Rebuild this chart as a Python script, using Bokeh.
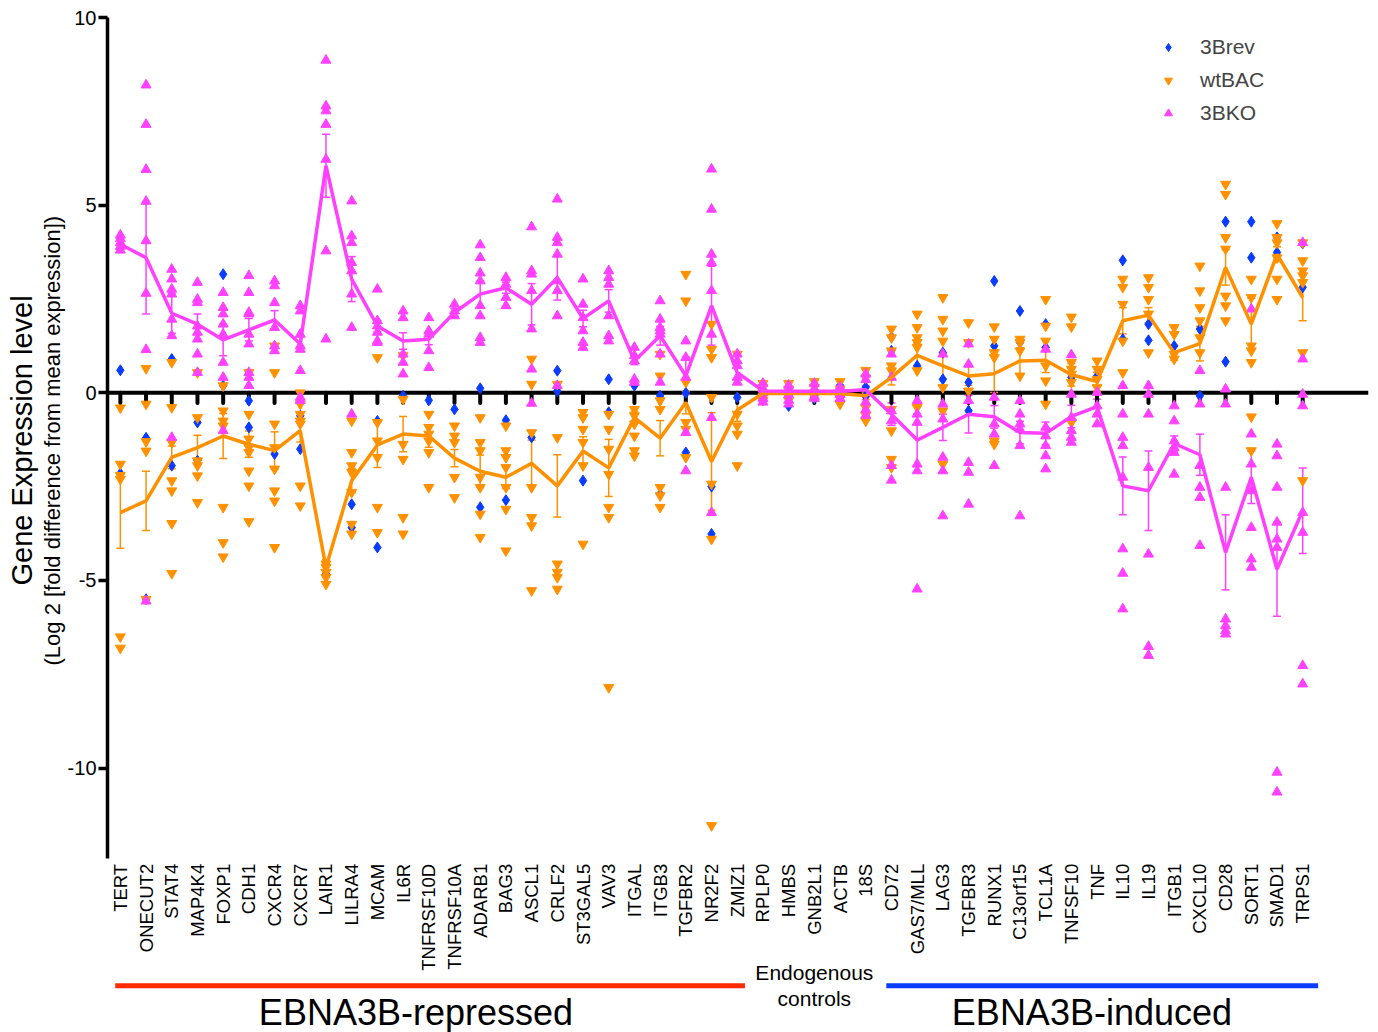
import math
from bokeh.plotting import figure
from bokeh.models import (Range1d, FixedTicker, Span, Whisker, TeeHead, ColumnDataSource,
                          Legend, LegendItem, Title)
from bokeh.core.properties import value
from bokeh.embed import file_html
from bokeh.resources import INLINE

genes = ["TERT", "ONECUT2", "STAT4", "MAP4K4", "FOXP1", "CDH1", "CXCR4", "CXCR7", "LAIR1",
         "LILRA4", "MCAM", "IL6R", "TNFRSF10D", "TNFRSF10A", "ADARB1", "BAG3", "ASCL1", "CRLF2",
         "ST3GAL5", "VAV3", "ITGAL", "ITGB3", "TGFBR2", "NR2F2", "ZMIZ1",
         "RPLP0", "HMBS", "GNB2L1", "ACTB", "18S",
         "CD72", "GAS7/MLL", "LAG3", "TGFBR3", "RUNX1", "C13orf15", "TCL1A", "TNFSF10", "TNF",
         "IL10", "IL19", "ITGB1", "CXCL10", "CD28", "SORT1", "SMAD1", "TRPS1"]

y_ticks = [-10, -5, 0, 5, 10]
y_tick_labels = ["-10", "-5", "0", "5", "10"]

# mean +/- SEM (lines with error bars)
ko_mean = [3.96, 3.60, 2.12, 1.83, 1.41, 1.68, 1.94, 1.30, 6.05, 3.03, 1.78, 1.38, 1.43, 2.14,
           2.63, 2.80, 2.36, 3.07, 1.98, 2.45, 0.85, 1.52, 0.45, 2.32, 0.54,
           0.05, 0.04, 0.04, 0.04, 0.08,
           -0.57, -1.26, -0.92, -0.57, -0.64, -1.06, -1.08, -0.63, -0.37, -2.48, -2.61, -1.35,
           -1.65, -4.25, -2.25, -4.70, -3.14]
ko_sem = [0.15, 1.5, 0.53, 0.27, 0.42, 0.3, 0.25, 0.2, 0.84, 0.6, 0.15, 0.22, 0.15, 0.1, 0.35,
          0.15, 0.55, 0.6, 0.22, 0.3, 0.1, 0.25, 0.5, 1.05, 0.3,
          0.05, 0.05, 0.05, 0.05, 0.1,
          0.3, 0.7, 0.35, 0.5, 0.3, 0.3, 0.3, 0.3, 0.2, 0.77, 1.06, 0.2, 0.55, 1.0, 0.7, 1.25, 1.14]
wt_mean = [-3.19, -2.88, -1.72, -1.46, -1.15, -1.37, -1.54, -1.01, -4.65, -2.34, -1.39, -1.10,
           -1.15, -1.74, -2.09, -2.25, -1.88, -2.48, -1.55, -2.0, -0.66, -1.21, -0.26, -1.83, -0.46,
           -0.02, -0.02, -0.02, -0.02, -0.08,
           0.41, 1.0, 0.72, 0.45, 0.51, 0.85, 0.87, 0.48, 0.30, 1.92, 2.07, 1.07, 1.31, 3.34,
           1.83, 3.69, 2.54]
wt_sem = [0.95, 0.79, 0.3, 0.33, 0.6, 0.35, 0.5, 0.3, 0.2, 0.33, 0.6, 0.47, 0.3, 0.23, 0.43, 0.3,
          0.62, 0.83, 0.38, 0.76, 0.15, 0.47, 0.3, 1.3, 0.3,
          0.05, 0.05, 0.05, 0.05, 0.1,
          0.2, 0.3, 0.35, 0.25, 0.5, 0.35, 0.33, 0.3, 0.25, 0.35, 0.2, 0.2, 0.46, 0.47, 0.69,
          0.2, 0.62]

# individual measurements
ko_points = [
    [4.2, 4.1, 4.0, 3.9, 3.8],
    [8.2, 7.15, 5.95, 5.1, 4.05, 2.65, 1.15, -5.55],
    [3.29, 3.03, 2.76, 2.63, 1.96, 1.52, -1.19],
    [2.94, 2.49, 2.4, 1.78, 1.61, 1.43, 1.03, 0.54],
    [2.67, 2.27, 2.1, 1.83, 1.56, 0.81, 0.41, -1.01],
    [3.12, 2.67, 2.14, 2.1, 1.56, 1.3, 0.54, 0.41, 0.19],
    [2.98, 2.85, 2.4, 1.74, 1.25, 1.12],
    [2.32, 2.18, 1.56, 1.25, 1.16, 0.59, -0.12, -0.21],
    [8.86, 7.64, 7.51, 7.15, 6.22, 3.78, 1.43],
    [5.11, 4.18, 4.0, 3.47, 3.25, 2.63, 1.74, -0.57],
    [2.76, 1.92, 1.78, 1.61, 1.38, 1.34],
    [2.18, 2.0, 1.03, 0.81, 0.5],
    [2.0, 1.65, 1.56, 1.12, 0.67],
    [2.36, 2.18, 2.05],
    [3.94, 3.6, 3.19, 2.98, 2.32, 2.05, 1.47, 1.34],
    [3.07, 2.89, 2.54, 2.32],
    [4.42, 3.25, 3.16, 2.72, 1.7, 0.63, -0.28],
    [5.16, 4.14, 4.0, 3.69, 2.98, 2.72, 2.05, 0.19],
    [3.03, 2.36, 2.0, 1.65, 1.34, 1.21],
    [3.25, 3.07, 2.89, 2.05, 1.52, 1.38],
    [1.21, 0.99, 0.85, 0.36, 0.28],
    [2.45, 1.96, 1.74, 1.65, 1.56, 1.03, 0.28],
    [1.38, 0.94, 0.41, -1.06, -2.08],
    [5.96, 4.89, 3.69, 3.47, 2.72, 1.56, -0.66, -3.19],
    [1.03, 0.85, 0.72, 0.41, 0.28],
    [0.25, 0.1, 0.0, -0.15, -0.25],
    [0.2, 0.1, -0.05, -0.2, -0.3],
    [0.25, 0.1, -0.1, -0.15],
    [0.15, -0.05, -0.15],
    [0.5, 0.35, -0.25, -0.45, -0.6],
    [1.03, 0.41, -0.48, -0.75, -1.94, -2.33],
    [-0.21, -0.57, -0.79, -1.9, -2.08, -5.23],
    [1.03, -0.3, -0.7, -1.72, -2.08, -3.28],
    [1.3, 0.76, -0.21, -1.86, -2.12, -2.97],
    [-0.12, -0.83, -1.1, -1.94],
    [-0.21, -0.57, -0.83, -0.97, -1.41, -3.28],
    [1.16, -0.92, -1.15, -1.41, -1.68, -2.03],
    [1.01, -0.04, -0.66, -1.01, -1.19, -1.32],
    [0.01, -0.35, -0.57, -0.83],
    [0.19, -0.57, -1.19, -1.41, -2.25, -4.16, -4.81, -5.76],
    [0.19, -0.04, -0.57, -1.99, -4.3, -6.76, -7.0],
    [-0.35, -0.75, -1.28, -1.46, -1.59, -2.17],
    [0.59, -0.3, -1.94, -2.52, -2.79, -4.07],
    [0.1, -0.3, -2.52, -6.03, -6.21, -6.34, -6.43],
    [2.23, -1.1, -1.9, -2.61, -3.59, -4.43, -4.65],
    [-1.37, -1.68, -2.52, -3.45, -3.9, -4.12, -10.11, -10.64],
    [4.0, 0.9, -0.04, -0.35, -3.19, -3.72, -7.27, -7.76],
]
wt_points = [
    [-0.4, -1.9, -2.2, -2.3, -6.5, -6.8],
    [0.65, -0.3, -1.3, -1.55, -5.5],
    [0.81, -0.39, -1.32, -2.34, -2.61, -3.48, -4.81],
    [0.54, -0.66, -1.81, -1.94, -2.21, -2.92],
    [0.19, -0.48, -0.75, -0.88, -3.05, -3.99, -4.37],
    [0.54, -0.57, -1.23, -1.46, -1.59, -2.08, -2.48, -3.43],
    [1.25, 0.54, -0.83, -1.46, -2.03, -2.61, -2.88, -4.12],
    [0.0, -0.3, -0.57, -0.75, -0.83, -2.48, -3.01],
    [-4.56, -4.65, -4.78, -4.92, -5.1],
    [-0.75, -1.59, -1.94, -2.12, -2.65, -3.5, -3.76],
    [0.94, -0.79, -1.28, -1.72, -3.05, -3.72],
    [0.99, -0.17, -1.37, -1.77, -3.32, -3.76],
    [-0.57, -0.92, -1.1, -1.28, -1.59, -2.52],
    [-0.88, -1.15, -1.32, -2.25, -2.79],
    [-0.66, -1.32, -1.54, -2.25, -2.52, -3.23, -3.85],
    [-0.88, -1.54, -1.72, -1.99, -2.52, -3.1, -4.21],
    [0.9, 0.23, -1.06, -2.52, -3.32, -3.54, -5.27],
    [0.23, -1.19, -4.56, -4.78, -4.92, -5.23],
    [-0.52, -0.66, -0.97, -1.32, -1.94, -4.03],
    [-0.57, -0.97, -1.5, -2.17, -3.05, -3.32, -7.85],
    [-0.44, -0.61, -0.83, -1.15, -1.54, -1.68],
    [1.03, 0.45, -0.21, -0.44, -2.52, -2.74, -3.05],
    [3.16, 2.45, 0.28, -0.79, -0.97, -1.72],
    [1.83, 1.16, 0.94, -0.12, -2.43, -3.9, -11.53],
    [1.03, -0.57, -0.88, -1.1, -1.94],
    [0.25, 0.15, 0.0, -0.1, -0.2],
    [0.25, 0.1, -0.1, -0.2],
    [0.3, 0.15, -0.1],
    [0.3, 0.1, -0.15, -0.3],
    [0.6, 0.4, -0.4, -0.6, -0.75],
    [1.7, 1.47, 1.12, 0.72, 0.59, -0.44, -1.01, -1.77, -1.99],
    [2.1, 1.74, 1.47, 1.34, 1.21, 0.59, -0.39],
    [2.54, 1.96, 1.65, 1.38, 0.14, -0.48, -1.9],
    [1.87, 1.34, 0.05],
    [1.76, 1.43, 1.07, 0.94, -1.28, -1.37],
    [1.43, 1.34, 1.12, 0.45],
    [2.49, 1.78, 1.38, 0.72, 0.32, -0.3],
    [2.02, 1.76, 0.81, 0.63, 0.5, 0.28, -0.79],
    [0.85, 0.63, 0.36, 0.14],
    [3.03, 2.81, 2.36, 1.38, 0.54],
    [3.07, 2.81, 2.49, 2.1, 1.07],
    [1.74, 1.56, 1.03, 0.9],
    [3.38, 2.72, 2.27, 1.92, 1.47, 1.07],
    [5.56, 5.29, 4.14, 3.83, 2.58, 2.32, 1.92],
    [3.03, 2.54, 1.25, 1.12, 0.81, -0.64, -1.54],
    [4.51, 4.14, 4.0, 3.6, 3.03, 2.49],
    [4.0, 3.52, 3.25, 3.12, 2.94, 1.07, -2.34],
]
rev_points = [
    [0.6, -2.15], [-1.2, -5.5], [0.9, -1.94], [-0.79, -1.81], [3.16, 0.19], [-0.21, -0.92],
    [-1.63], [-0.61, -1.5], [-4.83], [-2.97, -3.59], [-0.75, -4.12], [-0.08], [-0.2], [-0.44],
    [0.12, -3.05], [-0.73, -2.86], [-1.19], [0.59, 0.05], [-2.34], [0.36, -0.52], [0.19],
    [-0.08, -2.7], [0.0, -1.59], [-2.5, -3.76], [-0.12],
    [0.0, -0.1], [-0.35, 0.05], [-0.15, 0.05], [0.2, -0.05], [0.15, -0.1],
    [1.49, 1.12], [0.72], [1.07, 0.36], [0.28, -0.48], [2.98, 1.25], [2.18, 1.34], [1.83, 1.21],
    [0.41], [0.45], [3.53, 1.43], [1.83, 1.4], [1.25], [1.7, -0.08], [4.56, 0.83], [4.56, 3.6],
    [4.14, 3.74], [3.98, 2.81],
]

groups = [("EBNA3B-repressed", 0, 24), ("Endogenous\ncontrols", 25, 29), ("EBNA3B-induced", 30, 46)]

FONT = "Liberation Sans"
KO_C = "#FF40FF"
WT_C = "#FF9100"
REV_C = "#0A3CFF"

idx = list(range(len(genes)))


def flatten(pts):
    xs, ys = [], []
    for i, vals in enumerate(pts):
        xs += [i] * len(vals)
        ys += list(vals)
    return xs, ys


p = figure(width=1378, height=1032, output_backend="svg", toolbar_location=None,
           x_range=Range1d(-0.5, 48.56), y_range=Range1d(-17.044, 10),
           x_axis_location=None, min_border_left=107, min_border_right=10,
           min_border_top=17, min_border_bottom=0, title=None)
p.grid.visible = False
p.outline_line_color = None
p.background_fill_color = "white"

yax = p.yaxis[0]
yax.ticker = FixedTicker(ticks=y_ticks)
yax.major_label_overrides = {t: s for t, s in zip(y_ticks, y_tick_labels)}
yax.bounds = (-12.4, 10)
yax.axis_line_width = 3.5
yax.axis_line_color = "black"
yax.major_tick_line_width = 3.5
yax.major_tick_out = 9
yax.major_tick_in = 0
yax.minor_tick_line_color = None
yax.major_label_text_font = FONT
yax.major_label_text_font_size = "20px"
yax.major_label_text_color = "black"
yax.major_label_standoff = 2

sub = Title(text="(Log 2 [fold difference from mean expression])", align="left", offset=367,
            standoff=0, text_font=FONT, text_font_size="22px", text_font_style="normal",
            text_color="black")
p.add_layout(sub, "left")
main = Title(text="Gene Expression level", align="left", offset=447, standoff=0,
             text_font=FONT, text_font_size="29px", text_font_style="normal", text_color="black")
p.add_layout(main, "left")

# zero line and its ticks
p.add_layout(Span(location=0, dimension="width", line_color="black", line_width=4, level="underlay"))
p.segment(x0=idx, x1=idx, y0=[0] * len(idx), y1=[-0.27] * len(idx), line_color="black",
          line_width=4, line_cap="round")

# points
rx, ry = flatten(rev_points)
wx, wy = flatten(wt_points)
kx, ky = flatten(ko_points)
p.scatter(rx, ry, marker="diamond", size=11, color=REV_C)
p.scatter(wx, wy, marker="inverted_triangle", size=10, color=WT_C)
p.scatter(kx, ky, marker="triangle", size=10, color=KO_C)

# mean lines with SEM whiskers
for mean, sem, col in ((wt_mean, wt_sem, WT_C), (ko_mean, ko_sem, KO_C)):
    src = ColumnDataSource(dict(x=idx, lo=[m - s for m, s in zip(mean, sem)],
                                hi=[m + s for m, s in zip(mean, sem)]))
    p.add_layout(Whisker(source=src, base="x", lower="lo", upper="hi", line_color=col,
                         line_width=1.5,
                         upper_head=TeeHead(size=8, line_color=col, line_width=1.5),
                         lower_head=TeeHead(size=8, line_color=col, line_width=1.5)))
    p.line(idx, mean, line_color=col, line_width=3.5)

# gene labels
p.text(x=idx, y=[-12.55] * len(idx), text=genes, angle=math.pi / 2, text_align="right",
       text_baseline="middle", text_font=value(FONT), text_font_size="18.5px", text_color="black")

# group annotations
bar_cols = {"EBNA3B-repressed": "#FF2A00", "EBNA3B-induced": "#0A3CFF"}
text_shift = {"EBNA3B-repressed": -0.5, "EBNA3B-induced": -0.2}
for name, a, b in groups:
    if name in bar_cols:
        p.segment(x0=[a - 0.2], x1=[b + 0.3 if b < 40 else b + 0.6], y0=[-15.8], y1=[-15.8],
                  line_color=bar_cols[name], line_width=5)
        p.text(x=[(a + b) / 2 + text_shift[name]], y=[-16.5], text=[name], text_align="center",
               text_baseline="middle", text_font=value(FONT), text_font_size="36px",
               text_color="black")
    else:
        l1, l2 = name.split("\n")
        p.text(x=[(a + b) / 2], y=[-15.45], text=[l1], text_align="center",
               text_baseline="middle", text_font=value(FONT), text_font_size="21px",
               text_color="black")
        p.text(x=[(a + b) / 2], y=[-16.14], text=[l2], text_align="center",
               text_baseline="middle", text_font=value(FONT), text_font_size="21px",
               text_color="black")

# legend (renderers with one off-range point so only the legend glyph shows)
lr_rev = p.scatter([-10], [-100], marker="diamond", size=9, color=REV_C)
lr_wt = p.scatter([-10], [-100], marker="inverted_triangle", size=9, color=WT_C)
lr_ko = p.scatter([-10], [-100], marker="triangle", size=9, color=KO_C)
legend = Legend(items=[LegendItem(label="3Brev", renderers=[lr_rev]),
                       LegendItem(label="wtBAC", renderers=[lr_wt]),
                       LegendItem(label="3BKO", renderers=[lr_ko])],
                location=(1051, 905), label_text_font=FONT, label_text_font_size="21px",
                glyph_width=20, glyph_height=28, label_height=28, spacing=5, padding=0,
                label_standoff=22, border_line_color=None, background_fill_alpha=0)
p.add_layout(legend)

open("out.html", "w").write(file_html(p, INLINE))
